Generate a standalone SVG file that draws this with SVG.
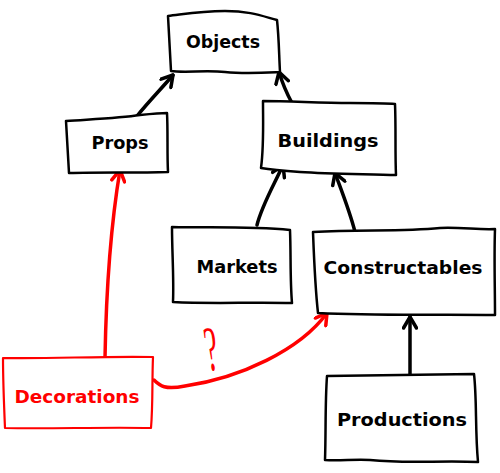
<svg xmlns="http://www.w3.org/2000/svg" width="500" height="473" viewBox="0 0 500 473">
<style>
.box{fill:#fff;stroke:#000;stroke-width:2.5;stroke-linejoin:round}
.rbox{fill:#fff;stroke:#f00;stroke-width:2.2;stroke-linejoin:round}
.lbl{font-family:"DejaVu Sans",sans-serif;font-size:18px;font-weight:bold;fill:#000;text-anchor:middle}
.rlbl{fill:#f00}
.edge{fill:none;stroke:#000;stroke-width:3.5;stroke-linecap:round}
.redge{fill:none;stroke:#f00;stroke-width:3.5;stroke-linecap:round}
</style>
<defs>
<marker id="ah" viewBox="-14 -8 16 16" refX="0" refY="0" markerWidth="16" markerHeight="16" markerUnits="userSpaceOnUse" orient="auto">
<path d="M-11,-6.5 L0,0 L-11,6.5" fill="none" stroke="#000" stroke-width="3.5" stroke-linecap="round" stroke-linejoin="round"/>
</marker>
<marker id="rah" viewBox="-14 -8 16 16" refX="0" refY="0" markerWidth="16" markerHeight="16" markerUnits="userSpaceOnUse" orient="auto">
<path d="M-11,-6.5 L0,0 L-11,6.5" fill="none" stroke="#f00" stroke-width="3.5" stroke-linecap="round" stroke-linejoin="round"/>
</marker>
</defs>
<g id="connectors">
<path class="edge" d="M137,116 C150,100 162,88 173,75" marker-end="url(#ah)"/>
<path class="edge" d="M292,103 C286,92 282,82 279,72" marker-end="url(#ah)"/>
<path class="edge" d="M257,225 C262,205 274,185 283,165" marker-end="url(#ah)"/>
<path class="edge" d="M355,232 C350,212 342,192 335,173" marker-end="url(#ah)"/>
<path class="edge" d="M410,375 L410,317" marker-end="url(#ah)"/>
<path class="redge" d="M105,358 C106,300 110,230 120,170" marker-end="url(#rah)"/>
<path class="redge" d="M154,380 C160,386 165,390 185,386 C240,378 300,350 327,313" marker-end="url(#rah)"/>
<text font-family="Liberation Serif,serif" font-size="64" fill="#f00" text-anchor="middle" transform="translate(214,370) rotate(-8) scale(0.45,1)">?</text>
</g>
<g id="objects">
<path class="box" d="M168,16 C185,14 200,11 225,11 C250,11 262,16 277,20 C279,38 279,55 280,72 C260,73 245,74 225,72 C205,70 185,73 171,71 C170,52 169,35 168,16 Z"/>
<text class="lbl" x="223" y="48" textLength="74" lengthAdjust="spacingAndGlyphs">Objects</text>
</g>
<g id="props">
<path class="box" d="M66,121 C95,119 120,118 140,115 C150,114 160,113 167,113 C168,132 167,152 168,172 C135,173 100,172 69,173 C68,155 67,138 66,121 Z"/>
<text class="lbl" x="120" y="149" textLength="57" lengthAdjust="spacingAndGlyphs">Props</text>
</g>
<g id="buildings">
<path class="box" d="M263,101 C290,101 320,103 350,103 C370,103 385,103 395,104 C396,128 395,152 396,175 C370,174 330,174 300,172 C285,171 272,170 261,168 C264,146 263,124 263,101 Z"/>
<text class="lbl" x="328" y="147" textLength="101" lengthAdjust="spacingAndGlyphs">Buildings</text>
</g>
<g id="markets">
<path class="box" d="M172,227 C210,228 250,226 290,230 C291,255 290,280 292,303 C250,302 210,304 173,302 C174,278 172,252 172,227 Z"/>
<text class="lbl" x="237" y="273" textLength="81" lengthAdjust="spacingAndGlyphs">Markets</text>
</g>
<g id="constructables">
<path class="box" d="M313,232 C360,229 400,232 440,228 C460,227 480,230 495,229 C494,258 495,287 495,315 C440,314 380,316 318,313 C315,286 314,258 313,232 Z"/>
<text class="lbl" x="403" y="274" textLength="159" lengthAdjust="spacingAndGlyphs">Constructables</text>
</g>
<g id="decorations">
<path class="rbox" d="M3,358 C50,359 100,356 153,357 C152,380 153,405 151,428 C100,427 50,429 5,428 C4,405 3,380 3,358 Z"/>
<text class="lbl rlbl" x="77" y="403" textLength="125" lengthAdjust="spacingAndGlyphs">Decorations</text>
</g>
<g id="productions">
<path class="box" d="M327,376 C370,375 420,375 474,374 C477,400 475,430 478,462 C440,460 410,464 370,460 C355,459 340,461 325,460 C326,432 325,404 327,376 Z"/>
<text class="lbl" x="402" y="426" textLength="130" lengthAdjust="spacingAndGlyphs">Productions</text>
</g>
</svg>
